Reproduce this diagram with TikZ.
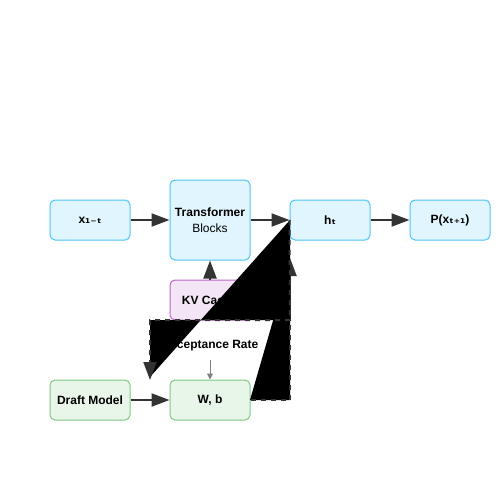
\documentclass[tikz,border=0pt]{standalone}
\usepackage{fontspec}
\setmainfont{Liberation Sans}
\newfontfamily\subfont{DejaVu Sans}
\usetikzlibrary{arrows.meta}
\definecolor{blueFill}{HTML}{E1F5FE}
\definecolor{blueLine}{HTML}{4FC3F7}
\definecolor{greenFill}{HTML}{E8F5E9}
\definecolor{greenLine}{HTML}{81C784}
\definecolor{purpleFill}{HTML}{F3E5F5}
\definecolor{purpleLine}{HTML}{BA68C8}
\definecolor{arrowGray}{HTML}{333333}
\tikzset{
  box/.style={rounded corners=5pt,line width=1pt,minimum width=80pt,minimum height=40pt,
    inner sep=0pt,font=\fontsize{12}{16}\selectfont\bfseries,align=center},
  bluebox/.style={box,draw=blueLine,fill=blueFill},
  greenbox/.style={box,draw=greenLine,fill=greenFill},
  purplebox/.style={box,draw=purpleLine,fill=purpleFill},
  flow/.style={line width=2pt,draw=arrowGray,-{Triangle[length=18pt,width=13pt]}},
  feedback/.style={flow,dash pattern=on 5pt off 5pt}
}
\begin{document}
\begin{tikzpicture}[x=1pt,y=-1pt]
  \useasboundingbox (0,0) rectangle (500,500);
  \node[bluebox] (xin) at (90,220) {x{\subfont ₁₋ₜ}};
  \node[bluebox,minimum height=80pt] (tf) at (210,220)
    {Transformer\\{\mdseries Blocks}};
  \node[bluebox] (hid) at (330,220) {h{\subfont ₜ}};
  \node[bluebox] (prob) at (450,220) {P(x{\subfont ₜ₊₁})};
  \node[purplebox] (kv) at (210,300) {KV Cache};
  \node[greenbox] (draft) at (90,400) {Draft Model};
  \node[greenbox] (wb) at (210,400) {W, b};
  \node[font=\fontsize{12}{14}\selectfont\bfseries] (acc) at (210,346) {Acceptance Rate};
  \coordinate (acctop) at (210,360);
  \draw[line width=1pt,draw=gray,-{Triangle[length=6pt,width=6pt]}] (acctop) -- (wb.north);
  \draw[flow] (kv.north) -- (tf.south);
  % dashed loops, filled black
  \coordinate (fbtip) at (290,258);
  \coordinate (drtip) at (150,380);
  \fill[black] (250,400) -- (290,400) -- (290,262) -- cycle;
  \draw[feedback] (wb.east) -- (290,400) -- (fbtip);
  \fill[black] (290,220) -- (290,320) -- (150,320) -- (150,377) -- cycle;
  \draw[feedback] (hid.west) -- (290,320) -- (150,320) -- (drtip);
  \draw[flow] (xin) -- (tf);
  \draw[flow] (tf.east) -- (hid.west);
  \draw[flow] (hid) -- (prob);
  \draw[flow] (draft) -- (wb);
\end{tikzpicture}
\end{document}
